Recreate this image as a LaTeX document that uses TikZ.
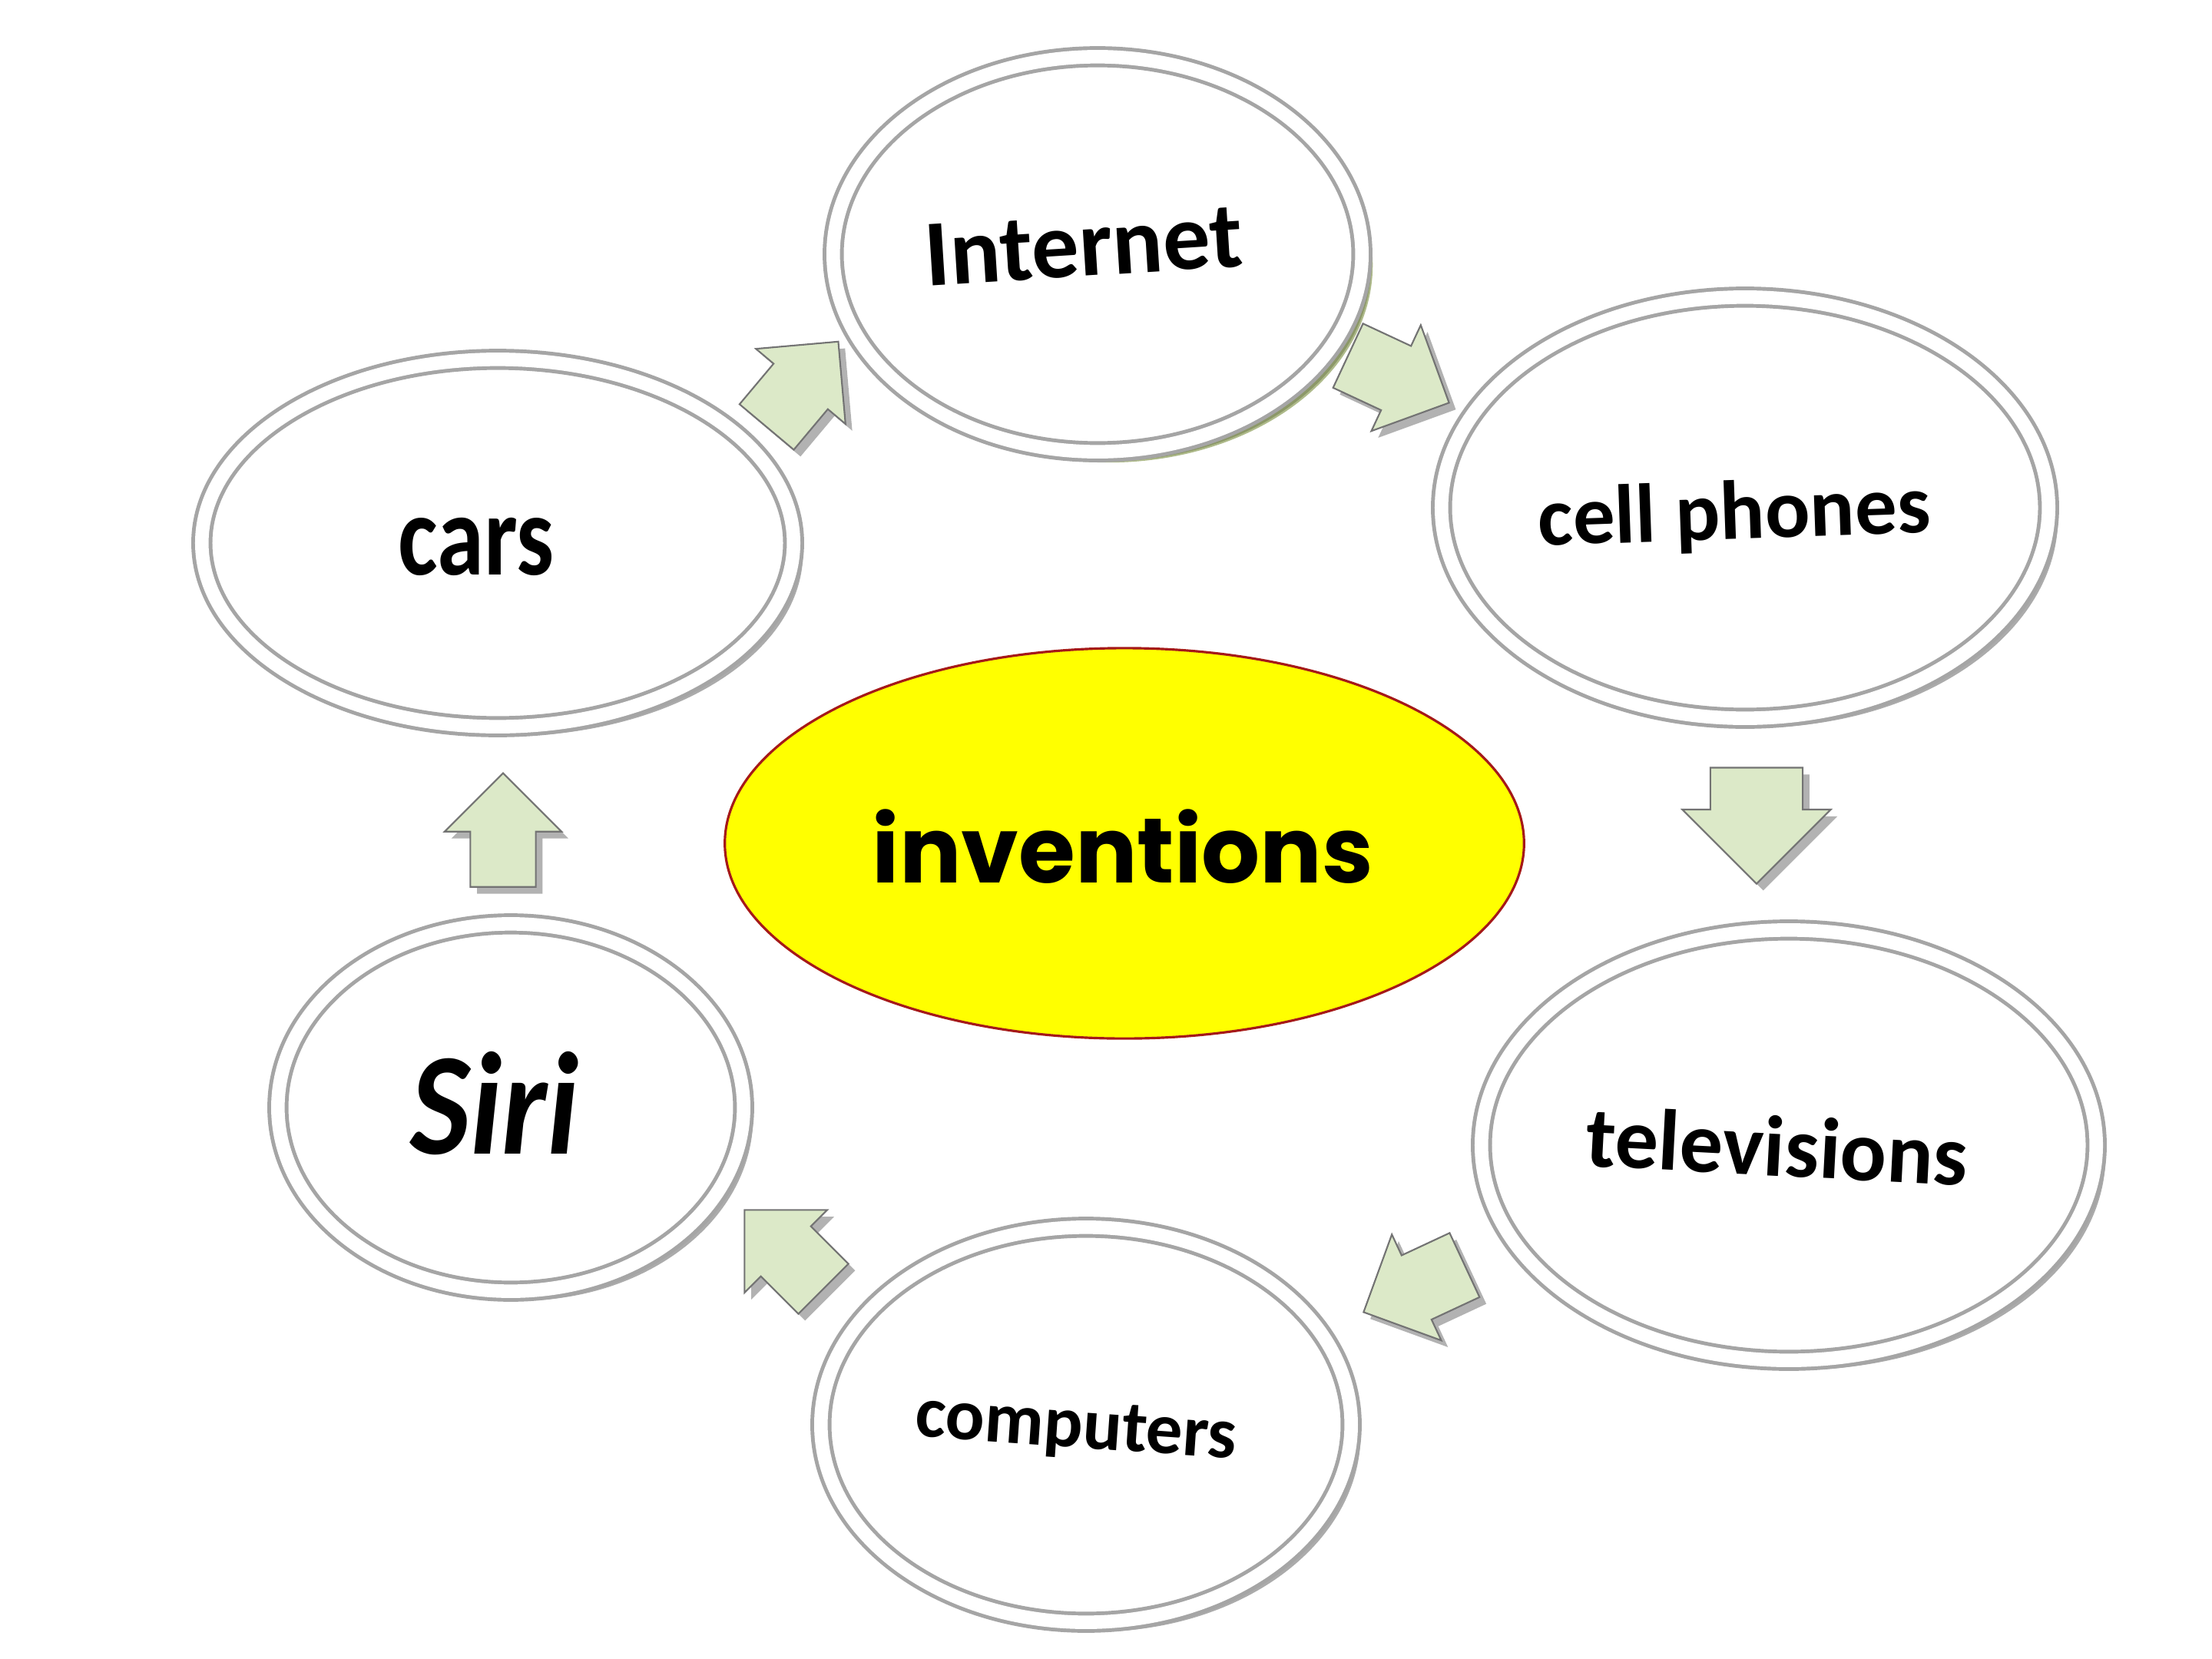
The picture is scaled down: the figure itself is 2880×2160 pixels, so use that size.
\documentclass[tikz,border=0pt]{standalone}
\usepackage{fontspec}
\setmainfont{Carlito}
\newfontfamily\gothic{Poppins}
\usetikzlibrary{shapes.geometric,shapes.arrows,shadows}
\definecolor{arrowfill}{RGB}{220,233,200}
\definecolor{ringgray}{RGB}{165,165,165}
\definecolor{redline}{RGB}{165,25,25}
\definecolor{sun}{RGB}{255,255,0}
\definecolor{olivesh}{RGB}{120,140,60}
\begin{document}
\begin{tikzpicture}[x=0.01cm,y=-0.01cm,
  bub/.style={ellipse, fill=white, draw=ringgray, line width=1.4pt,
    double=white, double distance=5pt, inner sep=0pt,
    drop shadow={shadow xshift=3.5pt, shadow yshift=-3.5pt, fill=black!60, opacity=0.55}},
  lbl/.style={text=black, inner sep=0pt},
  flow/.style={single arrow, fill=arrowfill, draw=black!55, line width=0.6pt,
    minimum height=1.45cm, minimum width=0pt, single arrow head extend=0.3cm,
    inner xsep=0pt, inner ysep=0.45cm,
    drop shadow={shadow xshift=2.5pt, shadow yshift=-2.5pt, fill=black!60, opacity=0.5}}]
\useasboundingbox (0,0) rectangle (2880,2160);
\fill[white] (0,0) rectangle (2880,2160);

% outer ellipses
\node[bub, drop shadow={shadow xshift=4pt, shadow yshift=-4pt, fill=olivesh, opacity=0.6},
  minimum width=6.88cm, minimum height=5.14cm] (internet) at (1429,331) {};
\node[bub, minimum width=7.90cm, minimum height=5.48cm] (cell) at (2272,661) {};
\node[bub, minimum width=8.00cm, minimum height=5.60cm] (tv) at (2329,1491) {};
\node[bub, minimum width=6.90cm, minimum height=5.14cm] (comp) at (1414,1855) {};
\node[bub, minimum width=6.06cm, minimum height=4.78cm] (siri) at (665,1442) {};
\node[bub, minimum width=7.70cm, minimum height=4.78cm] (cars) at (648,707) {};

% centre ellipse
\node[ellipse, fill=sun, draw=redline, line width=0.9pt, inner sep=0pt,
  minimum width=10.40cm, minimum height=5.08cm] (inv) at (1464,1098) {};

% labels
\node[lbl, rotate=3.6, font={\fontsize{35}{40}\selectfont\bfseries}] (internet-t) at (1411,320) {Internet};
\node[lbl, rotate=2, font={\fontsize{31}{36}\selectfont\bfseries}] (cell-t) at (2258,672) {cell phones};
\node[lbl, rotate=-3, font={\fontsize{32}{36}\selectfont\bfseries}] (tv-t) at (2314,1492) {televisions};
\node[lbl, rotate=-4, font={\fontsize{27}{32}\selectfont\bfseries}] (comp-t) at (1401,1862) {computers};
\node[lbl, font={\fontsize{50}{56}\selectfont\bfseries\itshape}] (siri-t) at (644,1437) {\scalebox{0.95}[1.08]{Siri}};
\node[lbl, font={\fontsize{35}{40}\selectfont\bfseries}] (cars-t) at (620,712) {\scalebox{1}[1.22]{cars}};
\node[lbl, font={\fontsize{34}{40}\selectfont\gothic\bfseries}] (inv-t) at (1462,1102) {inventions};

% flow arrows
\node[flow, rotate=50] (a1) at (1030,518) {};
\node[flow, rotate=-25] (a2) at (1800,484) {};
\node[flow, rotate=-90, minimum height=1.51cm, inner ysep=0.59cm, single arrow head extend=0.365cm] (a3) at (2287,1045) {};
\node[flow, rotate=205] (a4) at (1862,1668) {};
\node[flow, rotate=135] (a5) at (1037,1643) {};
\node[flow, rotate=90, minimum height=1.48cm, inner ysep=0.415cm, single arrow head extend=0.335cm] (a6) at (655,1102) {};
\end{tikzpicture}
\end{document}
